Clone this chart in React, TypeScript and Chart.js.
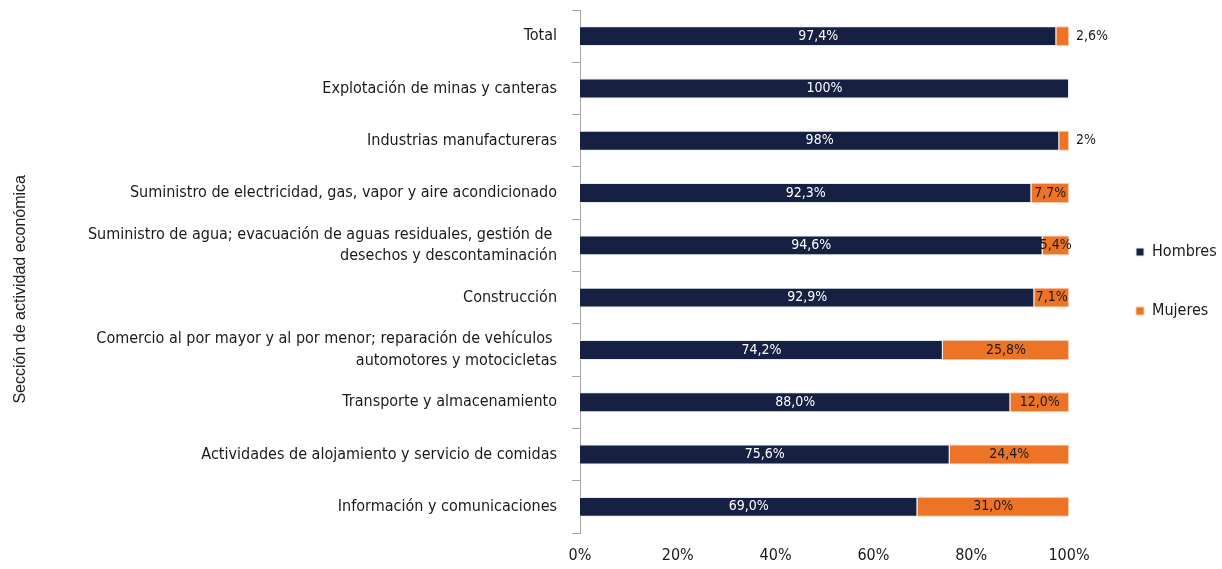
import React, { useEffect, useRef } from "react";
import { Chart, registerables } from "chart.js";

Chart.register(...registerables);

const categories: (string | string[])[] = [
  "Total",
  "Explotación de minas y canteras",
  "Industrias manufactureras",
  "Suministro de electricidad, gas, vapor y aire acondicionado",
  ["Suministro de agua; evacuación de aguas residuales, gestión de ", "desechos y descontaminación"],
  "Construcción",
  ["Comercio al por mayor y al por menor; reparación de vehículos ", "automotores y motocicletas"],
  "Transporte y almacenamiento",
  "Actividades de alojamiento y servicio de comidas",
  "Información y comunicaciones",
];

const hombres = [97.4, 100, 98, 92.3, 94.6, 92.9, 74.2, 88.0, 75.6, 69.0];
const mujeres = [2.6, 0, 2, 7.7, 5.4, 7.1, 25.8, 12.0, 24.4, 31.0];

const hombresLabels = ["97,4%", "100%", "98%", "92,3%", "94,6%", "92,9%", "74,2%", "88,0%", "75,6%", "69,0%"];
const mujeresLabels = ["2,6%", "", "2%", "7,7%", "5,4%", "7,1%", "25,8%", "12,0%", "24,4%", "31,0%"];

const xTickLabels = ["0%", "20%", "40%", "60%", "80%", "100%"];

const FONT = "'Liberation Sans Narrow', 'DejaVu Sans Condensed', 'Liberation Sans', sans-serif";
const NAVY = "#152042";
const ORANGE = "#ED7427";
const TEXT = "#1a1a1a";

const barLabelPlugin = {
  id: "barLabels",
  afterDatasetsDraw(chart: any) {
    const ctx = chart.ctx;
    ctx.save();
    ctx.font = `14px ${FONT}`;
    ctx.textBaseline = "middle";
    chart.data.datasets.forEach((_ds: any, di: number) => {
      const meta = chart.getDatasetMeta(di);
      const labels = di === 0 ? hombresLabels : mujeresLabels;
      meta.data.forEach((el: any, i: number) => {
        const text = labels[i];
        if (!text) return;
        const { x, y, base } = el.getProps(["x", "y", "base"], true);
        const w = Math.abs(x - base);
        if (di === 1 && w < 16) {
          ctx.fillStyle = TEXT;
          ctx.textAlign = "left";
          ctx.fillText(text, Math.max(x, base) + 7, y);
        } else {
          ctx.fillStyle = di === 0 ? "#ffffff" : TEXT;
          ctx.textAlign = "center";
          ctx.fillText(text, (x + base) / 2, y);
        }
      });
    });
    ctx.restore();
  },
};

const legendShiftPlugin = {
  id: "legendShift",
  afterLayout(chart: any) {
    const l = chart.legend;
    if (!l) return;
    l.left += 24;
    l.right += 24;
    l.top -= 8;
    l.bottom -= 8;
  },
};

export default function App() {
  const canvasRef = useRef<HTMLCanvasElement | null>(null);

  useEffect(() => {
    if (!canvasRef.current) return;
    const chart = new Chart(canvasRef.current, {
      type: "bar",
      data: {
        labels: categories as any,
        datasets: [
          {
            label: "Hombres",
            data: hombres,
            backgroundColor: NAVY,
            borderColor: "#e6ebf2",
            borderWidth: 1,
            barPercentage: 0.38,
            categoryPercentage: 1,
          },
          {
            label: "Mujeres",
            data: mujeres,
            backgroundColor: ORANGE,
            borderColor: "#f6c9a8",
            borderWidth: 1,
            barPercentage: 0.38,
            categoryPercentage: 1,
          },
        ],
      },
      options: {
        indexAxis: "y",
        animation: false,
        responsive: true,
        maintainAspectRatio: false,
        layout: { padding: { top: 10, left: 0, right: 0, bottom: 0 } },
        plugins: {
          legend: {
            position: "right",
            align: "center",
            labels: {
              boxWidth: 8,
              boxHeight: 8,
              padding: 43,
              color: TEXT,
              font: { family: FONT, size: 16 },
            },
          },
          tooltip: { enabled: false },
          title: { display: false },
        },
        scales: {
          x: {
            stacked: true,
            min: 0,
            max: 100,
            grid: { display: false, drawTicks: false },
            border: { display: false },
            ticks: {
              stepSize: 20,
              padding: 13,
              color: TEXT,
              font: { family: FONT, size: 16 },
              callback: (v: any) => xTickLabels[Math.round(Number(v) / 20)],
            },
            afterFit: (scale: any) => {
              scale.height = 36;
              scale.paddingRight = 153;
            },
          },
          y: {
            stacked: true,
            grid: {
              display: true,
              drawOnChartArea: false,
              drawTicks: true,
              tickLength: 8,
              offset: true,
              color: "#a6a6a6",
            },
            border: { display: true, color: "#a6a6a6" },
            ticks: {
              autoSkip: false,
              padding: 15,
              color: TEXT,
              font: { family: FONT, size: 16, lineHeight: 1.37 },
            },
            title: {
              display: true,
              text: "Sección de actividad económica\u00a0\u00a0\u00a0\u00a0\u00a0\u00a0\u00a0\u00a0",
              color: "#222222",
              font: { family: "'Liberation Sans', Arial, sans-serif", size: 16 },
              padding: { top: 11, bottom: 0 },
            },
            afterFit: (scale: any) => {
              scale.width = 580;
              scale.paddingTop = 0;
              scale.paddingBottom = 0;
            },
          },
        },
      },
      plugins: [barLabelPlugin, legendShiftPlugin],
    });
    return () => chart.destroy();
  }, []);

  return (
    <div style={{ position: "fixed", left: 0, top: 0, width: 1222, height: 569, background: "#ffffff" }}>
      <canvas ref={canvasRef} />
    </div>
  );
}
